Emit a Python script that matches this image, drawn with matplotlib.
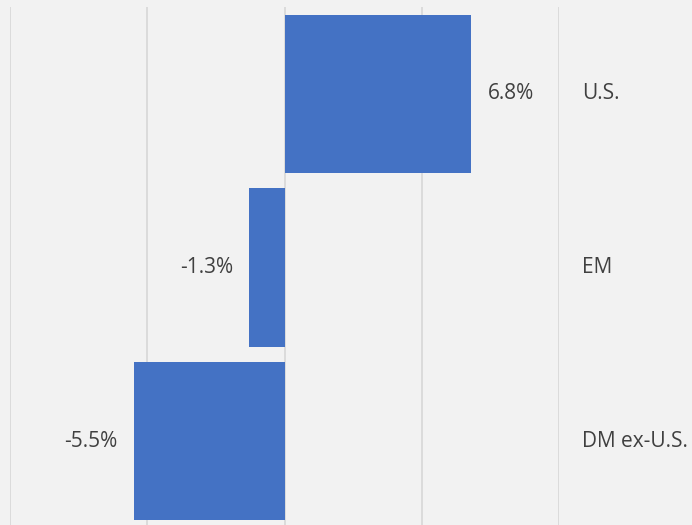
import matplotlib
matplotlib.use("Agg")
import matplotlib.pyplot as plt

categories = ["U.S.", "EM", "DM ex-U.S."]
values = [6.8, -1.3, -5.5]
value_labels = ["6.8%", "-1.3%", "-5.5%"]

bg = "#f2f2f2"
bar_color = "#4472c4"
text_color = "#404040"

plt.rcParams["font.family"] = ["Open Sans", "DejaVu Sans"]

fig = plt.figure(figsize=(6.92, 5.25), dpi=100, facecolor=bg)
ax = fig.add_axes([10 / 692, -3 / 525, 549 / 692, 521 / 525])
ax.set_facecolor(bg)

pos = list(range(len(categories)))
ax.barh(pos, values, height=0.91, color=bar_color, zorder=2)

ax.set_xlim(-10, 10)
ax.set_ylim(len(categories) - 0.5, -0.5)
ax.set_xticks([-10, -5, 0, 5, 10])
ax.set_yticks([])
ax.tick_params(axis="x", length=0, labelbottom=False)
ax.grid(axis="x", color="#d9d9d9", linewidth=1.3, zorder=0)
for s in ax.spines.values():
    s.set_visible(False)

for p, v, lab in zip(pos, values, value_labels):
    if v >= 0:
        ax.annotate(lab, (v, p), xytext=(17, 0), textcoords="offset pixels",
                    ha="left", va="center", fontsize=15, color=text_color)
    else:
        ax.annotate(lab, (v, p), xytext=(-16, 0), textcoords="offset pixels",
                    ha="right", va="center", fontsize=15, color=text_color)

for p, c in zip(pos, categories):
    ax.annotate(c, (1, p), xycoords=("axes fraction", "data"), xytext=(23, 0),
                textcoords="offset pixels", ha="left", va="center",
                fontsize=15, color=text_color, annotation_clip=False)

fig.savefig("out.png", dpi=100, facecolor=bg)
